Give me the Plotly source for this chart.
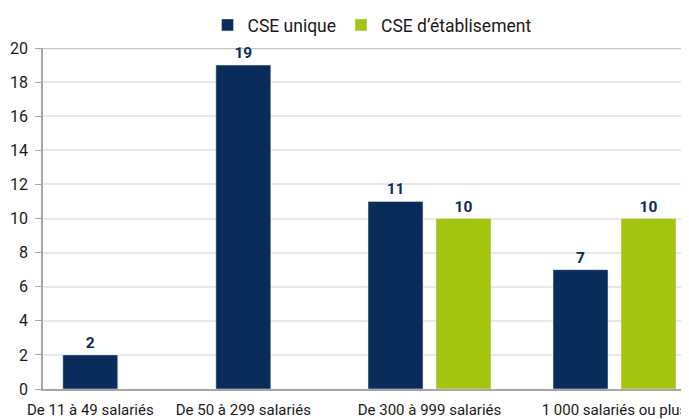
import plotly.graph_objects as go

categories = ["De 11 à 49 salariés", "De 50 à 299 salariés",
              "De 300 à 999 salariés", "1 000 salariés ou plus"]
cse_unique = [2, 19, 11, 7]
cse_etablissement = [None, None, 10, 10]
series_names = ["CSE unique", "CSE d\u2019établisement"]
y_ticks = [0, 2, 4, 6, 8, 10, 12, 14, 16, 18, 20]

NAVY = "#0a2c5a"
GREEN = "#a4c510"
FONT = "Roboto, Liberation Sans, sans-serif"
LABEL_FONT = dict(family=FONT, size=15.5, color=NAVY, weight="bold")

# the page adds an 8px body margin; the figure is sized to fill the rest
OFF = 8
W, H = 689 - OFF, 419 - OFF
L, R, T, B = 43 - OFF, 0, 48 - OFF, 30
PW = W - L - R
split = (320 - 43) / PW

fig = go.Figure()

# first two categories: only "CSE unique" bars
fig.add_trace(go.Bar(
    x=categories[:2], y=cse_unique[:2], name=series_names[0],
    marker_color=NAVY, width=0.359, xaxis="x", yaxis="y",
    legendgroup="u", showlegend=False,
    texttemplate="%{y}", textposition="outside", textfont=LABEL_FONT,
    cliponaxis=False,
))
# last two categories: both series
fig.add_trace(go.Bar(
    x=categories[2:], y=cse_unique[2:], name=series_names[0],
    marker_color=NAVY, xaxis="x2", yaxis="y2", legendgroup="u",
    texttemplate="%{y}", textposition="outside", textfont=LABEL_FONT,
    cliponaxis=False,
))
fig.add_trace(go.Bar(
    x=categories[2:], y=cse_etablissement[2:], name=series_names[1],
    marker_color=GREEN, xaxis="x2", yaxis="y2", legendgroup="e",
    texttemplate="%{y}", textposition="outside", textfont=LABEL_FONT,
    cliponaxis=False,
))

axis_common = dict(showline=True, linecolor="#a6a6a6", linewidth=2,
                   ticks="", showgrid=False, fixedrange=True,
                   ticklabelstandoff=6,
                   tickfont=dict(family=FONT, size=15, color="#1a1a1a"))

fig.update_layout(
    width=W, height=H,
    margin=dict(l=L, r=R, t=T, b=B, autoexpand=False),
    paper_bgcolor="white", plot_bgcolor="white",
    barmode="group", bargap=0.265, bargroupgap=0.191,
    font=dict(family=FONT, color="#1a1a1a"),
    xaxis=dict(domain=[0, split], range=[-0.309, 1.501], **axis_common),
    xaxis2=dict(domain=[split, 1], range=[-0.592, 1.4027], **axis_common),
    yaxis=dict(range=[0, 20], tickvals=y_ticks, showgrid=True,
               gridcolor="#e8e8e8", gridwidth=1.5,
               showline=True, linecolor="#a6a6a6", linewidth=1.5,
               ticks="outside", ticklen=6, tickcolor="#a6a6a6",
               ticklabelstandoff=4, zeroline=False, fixedrange=True,
               tickfont=dict(family=FONT, size=16, color="#1a1a1a")),
    yaxis2=dict(matches="y", anchor="x2", range=[0, 20], tickvals=y_ticks,
                showgrid=True, gridcolor="#e8e8e8", gridwidth=1.5,
                showticklabels=False, ticks="", showline=False,
                zeroline=False, fixedrange=True),
    legend=dict(orientation="h", x=(372 - 43) / PW, xanchor="center",
                yref="container", y=1 - (25 - OFF) / H, yanchor="middle",
                font=dict(family=FONT, size=17.5, color="#1a1a1a"),
                itemwidth=30, tracegroupgap=0),
    showlegend=True,
    shapes=[dict(type="line", xref="paper", yref="y",
                 x0=-6 / PW, x1=1, y0=20, y1=20,
                 line=dict(color="#c6c6c6", width=2.5), layer="below")],
)

fig.write_html("out.html", config={"displayModeBar": False})
